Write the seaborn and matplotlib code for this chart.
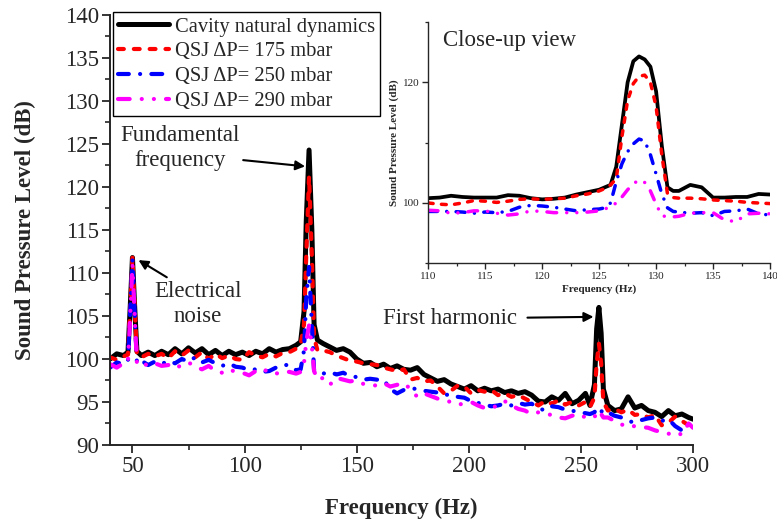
import numpy as np
import pandas as pd
import matplotlib
matplotlib.use("Agg")
import matplotlib.pyplot as plt
import seaborn as sns

# main spectrum (Hz / dB)
freq = [40, 43, 46, 48, 49, 50, 51, 52, 54, 57,
        60, 63, 66, 69, 72, 75, 78, 81, 84, 87,
        90, 93, 96, 99, 102, 105, 108, 111, 114, 117,
        120, 123, 125, 126.5, 127.5, 128.75, 130, 131, 132.5, 135,
        138, 141, 144, 147, 150, 153, 156, 159, 162, 165,
        168, 171, 174, 177, 180, 183, 186, 189, 192, 195,
        198, 201, 204, 207, 210, 213, 216, 219, 222, 225,
        228, 231, 234, 237, 240, 243, 246, 249, 252, 254,
        256, 257, 258, 259, 260, 262, 265, 268, 271, 274,
        277, 280, 283, 286, 289, 292, 295, 298, 300]

spl_cavity = [100.0, 100.6, 100.4, 100.8, 106.0, 111.8, 106.0, 100.9, 100.4, 100.8,
              100.4, 100.9, 100.5, 101.2, 100.6, 101.3, 100.7, 101.2, 100.5, 101.0,
              100.4, 100.9, 100.5, 100.8, 100.4, 100.9, 100.6, 101.2, 100.8, 101.1,
              101.2, 101.6, 102.0, 105.5, 116.0, 124.3, 115.0, 104.0, 102.2, 101.8,
              101.4, 101.0, 101.2, 100.8, 100.0, 99.5, 99.6, 99.1, 99.4, 98.9,
              99.2, 98.8, 98.7, 99.0, 98.2, 97.8, 97.4, 97.6, 97.1, 96.8,
              96.5, 96.9, 96.3, 96.6, 96.3, 96.5, 96.1, 96.3, 96.0, 96.2,
              95.8, 95.1, 95.0, 95.6, 95.2, 96.0, 94.8, 95.2, 96.0, 94.6,
              97.0, 103.5, 106.0, 103.0, 96.5, 94.6, 94.0, 94.2, 95.6, 94.3,
              94.6, 94.0, 93.8, 93.3, 94.0, 93.4, 93.6, 93.2, 93.0]

spl_175 = [100.2, 99.9, 100.3, 100.5, 106.0, 111.8, 106.0, 100.5, 100.2, 100.6,
           100.3, 100.6, 100.1, 100.9, 100.4, 101.0, 100.2, 100.8, 100.0, 100.6,
           100.1, 100.4, 100.0, 99.9, 100.8, 100.4, 100.2, 100.6, 100.3, 100.7,
           100.8, 101.2, 101.7, 104.0, 112.0, 121.2, 112.0, 102.5, 101.0, 101.0,
           100.8, 100.4, 100.1, 99.8, 99.7, 99.5, 99.4, 99.3, 99.0, 98.8,
           98.6, 98.8, 97.6, 97.8, 97.4, 97.5, 96.8, 96.0, 96.3, 96.9,
           96.8, 96.0, 96.4, 96.2, 96.4, 95.8, 96.0, 95.6, 95.8, 95.4,
           95.0, 94.6, 95.1, 94.8, 95.2, 94.7, 95.0, 94.6, 95.0, 94.4,
           95.5, 99.5, 101.8, 99.5, 95.0, 94.0, 94.2, 93.8, 94.1, 93.5,
           93.6, 93.2, 93.5, 92.3, 92.6, 93.3, 92.8, 92.3, 92.6]

spl_250 = [99.0, 99.6, 99.4, 99.8, 105.5, 111.5, 105.5, 99.5, 99.8, 99.3,
           99.7, 99.4, 99.8, 99.5, 100.0, 99.7, 100.2, 99.6, 99.9, 99.5,
           99.2, 99.5, 99.1, 99.0, 98.7, 98.8, 98.5, 98.6, 99.0, 99.3,
           99.3, 98.7, 98.8, 101.0, 107.0, 110.7, 104.0, 98.6, 98.6, 98.3,
           98.5, 98.2, 98.4, 98.0, 97.9, 97.6, 97.7, 97.6, 97.6, 96.5,
           96.0, 96.4, 96.6, 96.5, 96.3, 96.2, 96.1, 95.8, 95.9, 95.6,
           95.5, 95.1, 94.9, 94.7, 94.5, 94.6, 94.8, 94.6, 94.9, 94.7,
           94.8, 94.3, 94.0, 94.5, 94.4, 94.1, 94.0, 93.8, 93.7, 93.6,
           93.8, 94.2, 94.4, 94.0, 93.6, 93.8, 93.4, 93.2, 92.8, 92.6,
           92.9, 93.1, 93.2, 92.8, 93.0, 92.2, 91.7, 92.4, 92.2]

spl_290 = [99.4, 99.0, 99.5, 99.6, 105.0, 111.0, 105.0, 99.4, 99.6, 99.2,
           99.5, 99.2, 99.3, 98.9, 99.3, 99.6, 99.1, 98.8, 99.2, 98.6,
           98.4, 98.8, 98.5, 98.4, 98.1, 98.6, 98.9, 98.4, 98.3, 98.5,
           98.5, 98.3, 98.5, 99.5, 102.0, 103.9, 101.5, 98.6, 97.6, 97.8,
           97.0, 97.8, 97.6, 97.4, 97.5, 97.1, 97.0, 96.9, 97.2, 96.8,
           97.0, 97.2, 96.5, 95.6, 96.0, 95.7, 95.4, 95.2, 95.0, 94.7,
           94.8, 95.0, 94.6, 94.3, 94.3, 94.6, 95.1, 94.6, 94.2, 94.0,
           93.6, 93.8, 93.6, 93.5, 93.2, 93.1, 93.4, 93.6, 93.2, 93.2,
           93.2, 93.8, 94.0, 93.6, 93.2, 93.2, 92.8, 92.4, 92.1, 92.2,
           92.1, 92.0, 91.7, 91.5, 91.3, 91.5, 91.2, 92.5, 92.0]

# close-up 110-140 Hz
freq_zoom = [110, 111, 112, 113, 114, 115, 116, 117, 118, 119,
             120, 121, 122, 123, 124, 125, 125.5, 126, 126.5, 127,
             127.5, 128, 128.5, 129, 129.5, 130, 130.5, 131, 131.5, 132,
             133, 134, 135, 136, 137, 138, 139, 140]

zoom_cavity = [100.8, 100.9, 101.2, 101.0, 100.9, 100.9, 100.9, 101.3, 101.2, 100.8,
               100.6, 100.7, 100.9, 101.4, 101.8, 102.2, 102.6, 103.0, 106.0, 113.0,
               120.0, 123.5, 124.3, 123.8, 122.6, 118.5, 109.5, 102.6, 102.0, 102.0,
               103.0, 102.6, 100.9, 100.9, 101.0, 101.0, 101.5, 101.4]
zoom_175 = [100.0, 99.8, 99.7, 100.0, 100.4, 100.3, 100.1, 100.3, 100.6, 100.7,
            100.6, 100.7, 100.8, 101.2, 101.5, 102.0, 102.4, 103.0, 104.0, 111.0,
            117.0, 119.8, 121.0, 121.2, 120.0, 116.0, 108.0, 101.5, 100.9, 100.8,
            100.8, 100.7, 100.5, 100.4, 100.3, 100.1, 100.0, 99.9]
zoom_250 = [98.6, 98.6, 98.6, 98.5, 98.3, 98.5, 98.4, 98.6, 99.3, 99.6,
            99.5, 99.3, 99.0, 98.7, 98.9, 99.0, 99.2, 100.0, 103.5, 106.5,
            108.5, 109.8, 110.6, 110.3, 108.0, 104.8, 101.5, 99.2, 98.6, 98.5,
            98.3, 98.4, 97.9, 98.6, 98.7, 99.0, 98.2, 98.0]
zoom_290 = [98.8, 98.7, 98.3, 98.4, 98.7, 98.7, 98.3, 98.0, 98.2, 98.7,
            98.6, 98.4, 98.4, 98.4, 98.5, 98.7, 99.0, 99.4, 100.0, 101.0,
            102.2, 103.2, 103.8, 103.4, 102.0, 99.8, 97.9, 97.7, 97.7, 97.8,
            98.3, 98.4, 98.4, 97.2, 96.9, 98.2, 98.3, 98.2]

labels = ["Cavity natural dynamics", "QSJ \u0394P= 175 mbar",
          "QSJ \u0394P= 250 mbar", "QSJ \u0394P= 290 mbar"]
colors = ["black", "#ff0000", "#0000ff", "#ff00ff"]
dashes = [None, (1.4, 2.4), (2.6, 2.7, 0.01, 2.7), (2.8, 2.9, 0.01, 2.9, 0.01, 2.9)]

sns.set_style("ticks")
plt.rcParams["font.family"] = ["Liberation Serif", "DejaVu Serif"]

fig = plt.figure(figsize=(7.77, 5.26), dpi=100)
ax = fig.add_axes([0.1416, 0.154, 0.7504, 0.8175])

main_series = [spl_cavity, spl_175, spl_250, spl_290]
for vals, lab, col, ds, lw in zip(main_series, labels, colors, dashes, [3.6, 3, 3, 3]):
    sns.lineplot(x=freq, y=vals, color=col, lw=lw, label=lab, ax=ax,
                 solid_capstyle="round", dash_capstyle="round", legend=False)
    if ds is not None:
        ax.lines[-1].set_dashes(ds)

ax.set_xlim(40, 300)
ax.set_ylim(90, 140)
ax.set_xticks([50, 100, 150, 200, 250, 300])
ax.set_yticks(np.arange(90, 141, 5))
ax.set_xticks(np.arange(75, 300, 50), minor=True)
ax.set_yticks(np.arange(92.5, 140, 5), minor=True)
ax.tick_params(axis="both", which="major", direction="out", length=6, width=1.3,
               labelsize=16.5, pad=2)
ax.tick_params(axis="both", which="minor", direction="out", length=3.5, width=1.2)
sns.despine(ax=ax)
for s in ["left", "bottom"]:
    ax.spines[s].set_linewidth(1.4)
ax.set_xlabel("Frequency (Hz)", fontsize=16.5, fontweight="bold", labelpad=15)
ax.set_ylabel("Sound Pressure Level (dB)", fontsize=16.5, fontweight="bold", labelpad=21)

leg = ax.legend(loc="upper left", bbox_to_anchor=(0.005, 1.007), fontsize=14.8,
                frameon=True, fancybox=False, edgecolor="black", framealpha=1,
                borderaxespad=0, borderpad=0.25, labelspacing=0.27,
                handlelength=2.5, handletextpad=0.25)
leg.get_frame().set_linewidth(1.0)

ax.annotate("Fundamental\nfrequency", xy=(127.0, 122.4), xytext=(71.3, 124.5),
            ha="center", va="center", fontsize=16.5, linespacing=1.25,
            arrowprops=dict(arrowstyle="-|>", color="black", lw=1.5, mutation_scale=14,
                            shrinkA=0, shrinkB=0, relpos=(1.0, 0.25)))
ax.annotate("Electrical\nnoise", xy=(52.7, 111.5), xytext=(79.2, 106.4),
            ha="center", va="center", fontsize=16.5, linespacing=1.3,
            arrowprops=dict(arrowstyle="-|>", color="black", lw=1.5, mutation_scale=14,
                            shrinkA=0, shrinkB=0, relpos=(0.25, 0.95)))
ax.annotate("First harmonic", xy=(255.6, 104.9), xytext=(191.7, 104.7),
            ha="center", va="center", fontsize=16.5,
            arrowprops=dict(arrowstyle="-|>", color="black", lw=1.5, mutation_scale=14,
                            shrinkA=5, shrinkB=0))

# inset
axin = fig.add_axes([0.5512, 0.4994, 0.4398, 0.4587])
zoom_series = [zoom_cavity, zoom_175, zoom_250, zoom_290]
for vals, col, ds, lw in zip(zoom_series, colors, dashes, [2.7, 2.5, 2.5, 2.5]):
    sns.lineplot(x=freq_zoom, y=vals, color=col, lw=lw, ax=axin,
                 solid_capstyle="round", dash_capstyle="round", legend=False)
    if ds is not None:
        axin.lines[-1].set_dashes(ds)

axin.set_xlim(110, 140)
axin.set_ylim(90, 130)
axin.set_xticks(np.arange(110, 141, 5))
axin.set_xticks(np.arange(112.5, 140, 5), minor=True)
axin.set_yticks([100, 120])
axin.set_yticks([90, 110, 130], minor=True)
axin.tick_params(axis="both", which="major", direction="out", length=4, width=1.0,
                 labelsize=8, pad=2)
axin.tick_params(axis="both", which="minor", direction="out", length=2.5, width=0.9)
sns.despine(ax=axin)
for s in ["left", "bottom"]:
    axin.spines[s].set_linewidth(1.0)
axin.patch.set_alpha(0)
axin.set_xlabel("Frequency (Hz)", fontsize=8, fontweight="bold", labelpad=3)
axin.set_ylabel("Sound Pressure Level (dB)", fontsize=8, fontweight="bold", labelpad=3)
axin.text(0.043, 0.925, "Close-up view", transform=axin.transAxes, fontsize=16.5,
          ha="left", va="center")

fig.savefig("out.png", dpi=100)
